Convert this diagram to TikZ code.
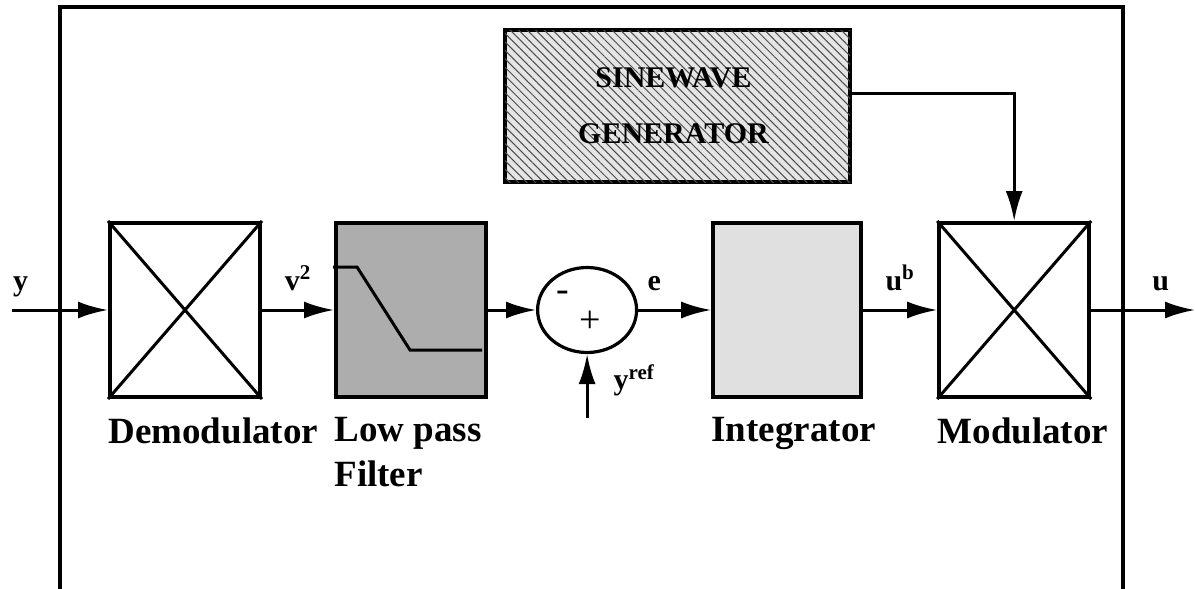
\documentclass[tikz,border=0pt]{standalone}
\usepackage{fontspec}
\setmainfont{Liberation Serif}
\usepackage{tikz}
\usetikzlibrary{arrows.meta, positioning, calc, patterns.meta, shapes.geometric}

\begin{document}
\begin{tikzpicture}[x=0.5pt, y=-0.5pt, node distance=36.5pt,
  font=\bfseries\fontsize{18.5}{22.5}\selectfont,
  block/.style={draw, line width=2pt, minimum width=75pt, minimum height=87pt, inner sep=0pt},
  sig/.style={line width=1.5pt, -{Latex[length=15pt, width=8.5pt]}},
  sigtext/.style={font=\bfseries\fontsize{15}{18}\selectfont, inner sep=0pt, anchor=base},
  sign/.style={font=\mdseries\fontsize{19}{20}\selectfont, inner sep=0pt},
  caption/.style={inner sep=0pt, align=left, anchor=north west}]
\useasboundingbox (0,0) rectangle (1195,589);
% outer frame, open at the bottom
\draw[line width=2.2pt] (60,600) -- (60,7) -- (1123,7) -- (1123,600);

\node[block] (demod) at (185,310) {};
\node[block, fill=black!32, right=36pt of demod] (lpf) {};
\node[draw, ellipse, line width=1.6pt, minimum width=49.5pt, minimum height=42.5pt, inner sep=0pt, right=24pt of lpf] (sum) {};
\node[block, fill=black!12, minimum width=74pt, right=of sum] (integ) {};
\node[block, right=37pt of integ] (mod) {};
\node[block, minimum width=172.5pt, minimum height=76pt, fill=black!10,
  postaction={pattern={Lines[angle=-45, distance=3pt, line width=0.5pt]}, pattern color=black!70}] (sine) at (677.5,106) {};
\node[align=center, font=\bfseries\fontsize{15}{28}\selectfont] (sinetxt) at ([xshift=-2pt]sine.center) {SINEWAVE\\GENERATOR};

\foreach \b in {demod, mod} {
  \draw[line width=1.5pt] (\b.north west) -- (\b.south east) (\b.north east) -- (\b.south west);
}
% filter curve
\draw[line width=1.5pt] (333,267) -- (357,267) -- (410,350) -- (482,350);

\node[sign] (sminus) at (563,296) {-};
\node[sign] (splus) at (590,322) {+};

\coordinate (yin) at (12,310);
\coordinate (uout) at (1195,310);
\coordinate (yref) at (sum.south |- 0,418);

\draw[sig] (yin) -- (demod) node[sigtext, pos=0.09, yshift=10pt] (ylbl) {y};
\draw[sig] (demod) -- node[sigtext, yshift=10pt] (vlbl) {v\textsuperscript{2}} (lpf);
\draw[sig] (lpf) -- (sum);
\draw[sig] (sum) -- (integ) node[sigtext, pos=0.22, yshift=10pt] (elbl) {e};
\draw[sig] (integ) -- node[sigtext, yshift=10pt] (ublbl) {u\textsuperscript{b}} (mod);
\draw[sig] (mod) -- (uout) node[sigtext, pos=0.67, yshift=10pt] (ulbl) {u};
\draw[sig] (yref) -- (sum.south) node[sigtext, anchor=base west, pos=0.44, xshift=12.5pt] (yreflbl) {y\textsuperscript{ref}};
\draw[sig] ([yshift=6.5pt]sine.east) -| (mod);

\node[below=9pt of demod.south west, caption] (demodtxt) {Demodulator};
\node[below=9pt of lpf.south west, caption] (lpftxt) {Low pass\\Filter};
\node[below=9pt of integ.south west, caption] (integtxt) {Integrator};
\node[below=9pt of mod.south west, caption] (modtxt) {Modulator};
\end{tikzpicture}
\end{document}
